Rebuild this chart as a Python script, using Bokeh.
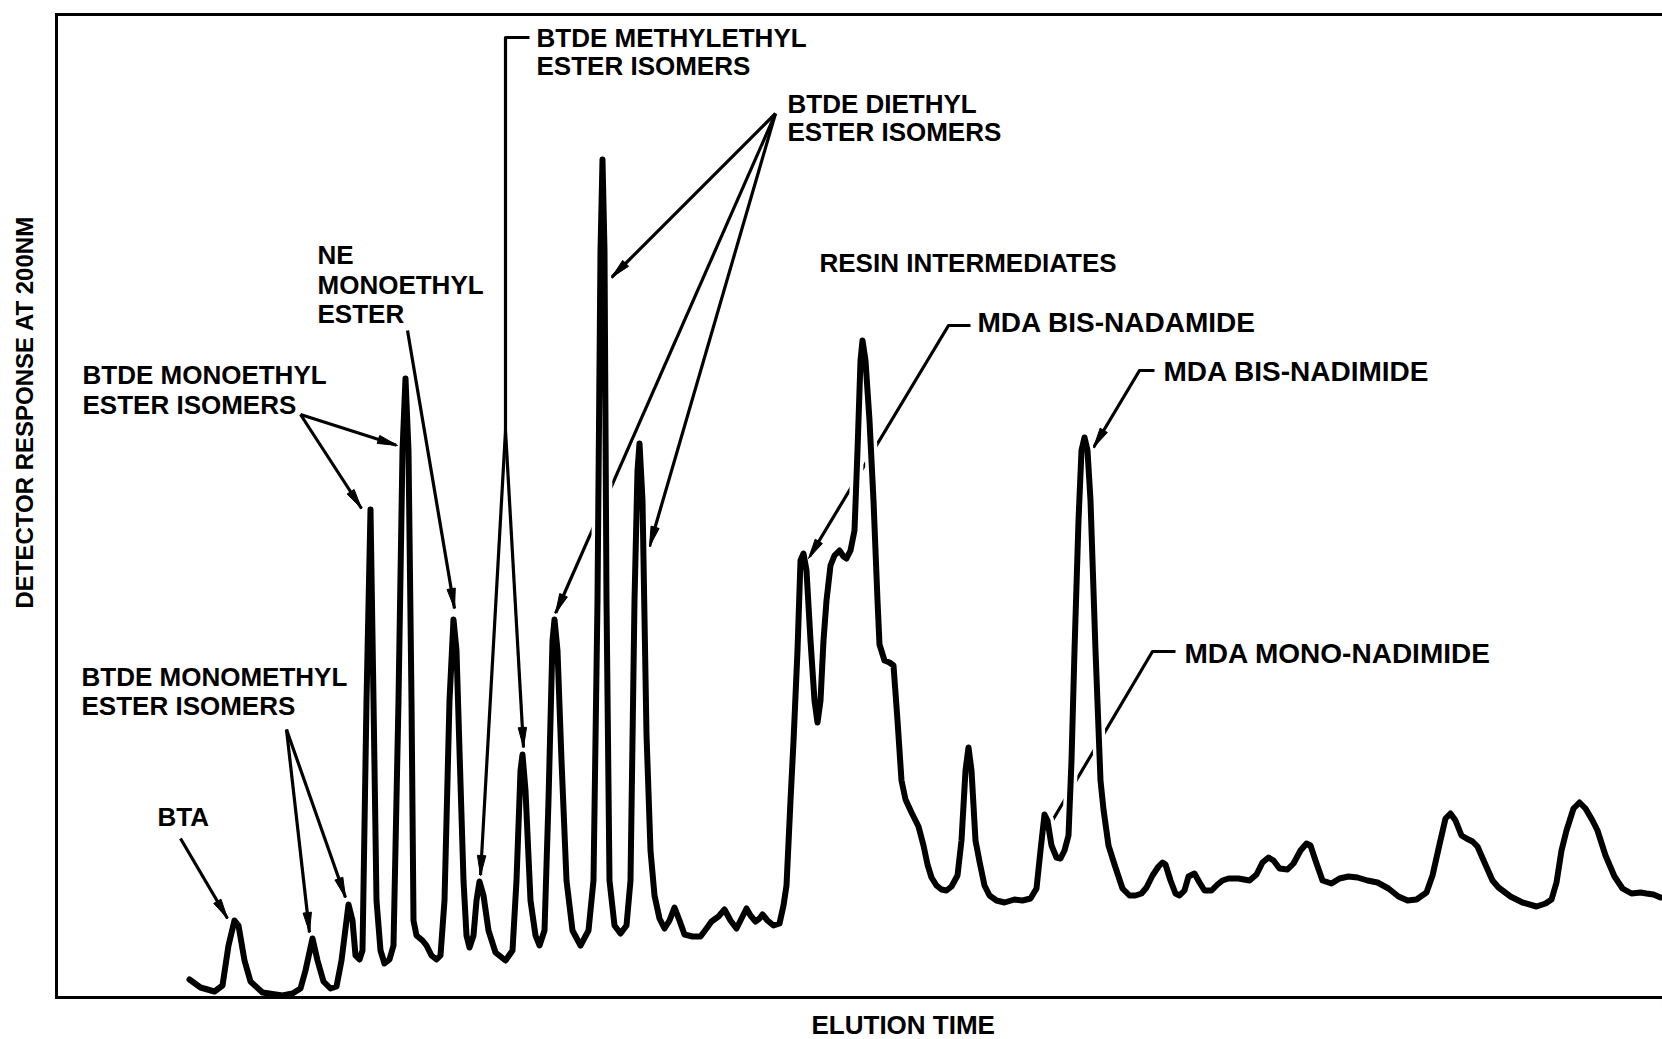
import math

from bokeh.core.properties import value
from bokeh.embed import file_html
from bokeh.models import FixedTicker, LinearAxis, Range1d, Title
from bokeh.plotting import figure
from bokeh.resources import INLINE

# HPLC trace of the resin: elution time (arbitrary units) and detector response at 200 nm
elution_time = [
    13.3, 14.4, 15.8, 16.6, 17.2, 17.8, 18.2, 18.8, 19.4, 20.6, 22.6, 23.6, 24.4, 24.9,
    25.6, 26.1, 26.7, 27.4, 28.0, 28.5, 29.2, 29.6, 29.9, 30.3, 30.6, 31.0, 31.4, 31.7,
    32.0, 32.4, 32.8, 33.3, 33.7, 34.2, 34.6, 34.9, 35.2, 35.5, 35.7, 36.0, 36.6, 37.0,
    37.5, 38.0, 38.4, 38.8, 39.3, 39.7, 40.0, 40.3, 40.7, 41.0, 41.3, 41.7, 42.0, 42.3,
    42.7, 43.2, 43.9, 44.9, 45.6, 46.0, 46.4, 46.6, 46.9, 47.4, 47.9, 48.3, 48.8, 49.2,
    49.6, 49.8, 50.1, 50.5, 51.0, 51.6, 52.4, 53.2, 53.7, 54.1, 54.4, 54.6, 54.8, 55.0,
    55.3, 55.8, 56.4, 57.0, 57.4, 57.8, 58.1, 58.3, 58.6, 59.0, 59.4, 59.8, 60.3, 60.8,
    61.3, 61.8, 62.3, 62.8, 63.6, 64.4, 65.0, 65.5, 66.2, 66.8, 67.4, 68.0, 68.5, 69.0,
    69.4, 69.9, 70.3, 70.6, 71.1, 71.7, 72.3, 72.7, 73.0, 73.4, 73.7, 74.1, 74.4, 74.7,
    75.0, 75.4, 75.8, 76.1, 76.4, 76.7, 77.0, 77.4, 77.8, 78.3, 78.7, 79.0, 79.4, 79.8,
    80.1, 80.4, 80.6, 80.9, 81.3, 81.7, 82.1, 82.3, 82.8, 83.3, 83.7, 84.1, 84.5, 84.9,
    85.5, 86.2, 86.7, 87.1, 87.5, 88.0, 88.5, 89.0, 89.5, 90.1, 90.5, 90.9, 91.2, 91.5,
    91.9, 92.3, 92.8, 93.3, 94.0, 94.8, 95.8, 96.6, 97.4, 98.0, 98.4, 98.8, 99.1, 99.5,
    100.0, 100.4, 100.8, 101.2, 101.5, 101.8, 102.2, 102.5, 102.8, 103.1, 103.4, 103.9,
    104.4, 104.7, 105.2, 105.8, 106.6, 107.3, 107.9, 108.5, 109.0, 109.6, 110.2, 110.6,
    110.9, 111.4, 111.9, 112.3, 112.8, 113.2, 113.8, 114.3, 114.8, 115.5, 116.1, 116.6,
    117.2, 118.2, 119.3, 120.0, 120.6, 121.2, 121.7, 122.3, 123.1, 123.7, 124.4, 125.0,
    125.4, 125.9, 126.6, 127.5, 128.3, 129.2, 130.1, 131.1, 132.1, 133.2, 134.2, 135.1,
    136.0, 137.0, 137.6, 138.3, 138.9, 139.4, 139.9, 140.5, 141.0, 141.6, 142.1, 142.8,
    143.6, 144.2, 145.4, 146.6, 148.0, 148.9, 149.5, 150.0, 150.5, 151.0, 151.7, 152.3,
    152.9, 153.6, 154.1, 154.9, 155.8, 156.6, 157.5, 158.4, 159.0, 159.7, 160.4,
]
detector_response = [
    1.8, 1.0, 0.6, 1.2, 5.2, 7.7, 7.2, 3.7, 1.6, 0.5, 0.2, 0.4, 0.9, 2.7,
    5.9, 3.7, 1.6, 0.9, 1.1, 3.7, 9.3, 7.7, 4.2, 3.8, 4.7, 29.7, 48.8, 29.7,
    9.7, 4.7, 3.4, 3.8, 5.2, 29.7, 54.7, 61.9, 54.7, 29.7, 7.7, 6.2, 5.7, 5.2,
    4.2, 3.8, 4.2, 9.7, 29.7, 37.8, 34.7, 24.7, 11.7, 6.2, 5.0, 6.2, 9.7, 11.6,
    10.2, 6.7, 4.5, 3.7, 4.7, 11.7, 22.7, 24.3, 20.7, 9.7, 6.2, 5.2, 6.7, 19.7,
    35.7, 37.8, 34.7, 23.7, 11.7, 6.7, 5.2, 6.7, 11.7, 39.7, 74.7, 83.8, 74.7, 39.7,
    11.7, 7.2, 6.4, 7.2, 11.7, 39.7, 52.7, 55.4, 49.7, 26.3, 14.7, 10.2, 7.9, 6.9,
    7.7, 9.0, 7.7, 6.3, 6.1, 6.1, 6.9, 7.6, 8.1, 8.8, 7.7, 6.9, 7.9, 8.9,
    8.2, 7.6, 7.9, 8.3, 7.7, 7.2, 7.4, 9.2, 11.2, 19.7, 25.6, 34.7, 43.7, 44.4,
    42.7, 35.7, 29.7, 27.5, 29.7, 35.7, 39.7, 43.2, 44.2, 44.7, 44.1, 43.9, 44.7, 46.7,
    54.7, 63.7, 65.7, 63.7, 57.7, 49.7, 39.7, 35.3, 33.7, 33.5, 33.2, 27.7, 21.7, 19.8,
    18.5, 17.1, 15.2, 13.3, 12.0, 11.2, 10.8, 10.7, 11.1, 12.2, 15.7, 22.7, 25.0, 22.7,
    15.7, 13.6, 11.2, 10.2, 9.7, 9.5, 9.8, 9.7, 9.9, 10.9, 14.7, 18.3, 17.7, 15.2,
    14.0, 13.9, 14.7, 16.2, 23.7, 34.7, 47.7, 54.7, 56.0, 54.7, 49.7, 34.7,
    21.7, 18.8, 15.2, 13.3, 10.9, 10.2, 10.2, 10.4, 11.0, 12.2, 13.1, 13.5,
    13.3, 11.7, 10.4, 10.2, 10.7, 12.1, 12.4, 11.5, 10.7, 10.7, 11.3, 11.7,
    11.9, 11.9, 11.7, 12.3, 13.5, 14.0, 13.7, 12.9, 12.8, 13.4, 14.7, 15.4,
    15.2, 13.7, 11.7, 11.4, 11.9, 12.1, 12.0, 11.7, 11.5, 10.9, 10.1, 9.7,
    9.8, 10.5, 12.2, 15.3, 17.9, 18.4, 17.7, 16.2, 15.9, 15.6, 15.1, 13.5,
    11.7, 11.0, 10.1, 9.5, 9.1, 9.4, 9.8, 11.5, 14.7, 16.7, 18.9, 19.5,
    18.9, 17.7, 16.7, 14.2, 12.1, 10.9, 10.4, 10.5, 10.4, 10.3, 10.0,
]

# Peak identification texts, one entry per printed line
label_lines = [
    "BTA",
    "BTDE MONOMETHYL", "ESTER ISOMERS",
    "BTDE MONOETHYL", "ESTER ISOMERS",
    "NE", "MONOETHYL", "ESTER",
    "BTDE METHYLETHYL", "ESTER ISOMERS",
    "BTDE DIETHYL", "ESTER ISOMERS",
    "RESIN INTERMEDIATES",
]
label_time = [10.1, 2.5, 2.5, 2.6, 2.6, 26.1, 26.1, 26.1, 48.0, 48.0, 73.1, 73.1, 76.3]
label_response = [18.1, 32.1, 29.2, 62.3, 59.3, 74.3, 71.3, 68.4, 96.0, 93.2, 89.4, 86.6, 73.5]

# Resin intermediate identifications (printed a little larger)
mda_lines = ["MDA BIS-NADAMIDE", "MDA BIS-NADIMIDE", "MDA MONO-NADIMIDE"]
mda_time = [92.1, 110.7, 112.8]
mda_response = [67.5, 62.6, 34.4]

# Leader lines (time, response vertices) from each label to its peak(s)
leader_paths = [
    [(12.4, 15.9), (17.1, 7.9)],
    [(23.0, 26.8), (25.3, 6.5)],
    [(23.0, 26.8), (28.9, 10.0)],
    [(24.4, 58.3), (34.1, 55.2)],
    [(24.4, 58.3), (30.5, 48.9)],
    [(35.1, 66.7), (39.8, 38.9)],
    [(47.3, 96.0), (44.9, 96.0), (44.9, 56.7), (42.4, 12.2)],
    [(44.9, 56.7), (46.7, 25.0)],
    [(71.9, 88.4), (55.5, 72.0)],
    [(71.9, 88.4), (49.9, 38.4)],
    [(71.9, 88.4), (59.3, 45.1)],
    [(91.4, 67.2), (89.2, 67.2), (75.2, 43.9)],
    [(109.8, 62.7), (108.3, 62.7), (103.7, 55.0)],
    [(111.9, 34.6), (109.6, 34.6), (99.3, 17.2)],
]
# Which leaders end in an arrowhead
leader_arrow = [True] * 13 + [False]

FONT = "Liberation Sans"

p = figure(
    width=1662, height=1039,
    x_range=Range1d(0, 160.6), y_range=Range1d(0, 98.3),
    output_backend="svg", toolbar_location=None,
    min_border_left=56, min_border_right=0, min_border_top=14, min_border_bottom=42,
)
p.outline_line_color = None
p.grid.visible = False
p.background_fill_color = "white"
p.border_fill_color = "white"


def style_frame_axis(ax, spacer_tick=None, gap=0):
    # unlabelled axis that only draws a frame edge; a single near-transparent tick of
    # length "gap" reserves room between the edge and the caption
    ax.ticker = FixedTicker(ticks=[] if spacer_tick is None else [spacer_tick])
    ax.axis_line_width = 3
    ax.axis_line_color = "black"
    ax.axis_line_cap = "square"
    ax.major_tick_line_color = "black"
    ax.major_tick_line_alpha = 0.01
    ax.major_tick_line_width = 1
    ax.minor_tick_line_color = None
    ax.major_tick_out = gap
    ax.major_tick_in = 0
    ax.minor_tick_out = 0
    ax.minor_tick_in = 0
    ax.major_label_text_font_size = "0px"
    ax.major_label_standoff = 0
    if spacer_tick is not None:
        ax.major_label_overrides = {spacer_tick: ""}


style_frame_axis(p.xaxis[0], spacer_tick=160.5, gap=10)
style_frame_axis(p.yaxis[0], spacer_tick=50.0, gap=19)
top_axis = LinearAxis()
style_frame_axis(top_axis)
top_axis.major_tick_line_color = None
p.add_layout(top_axis, "above")

# axis captions
p.add_layout(Title(
    text="ELUTION TIME", align="left", offset=755, standoff=0,
    text_font=FONT, text_font_style="bold", text_font_size="26px", text_color="black",
), "below")
p.add_layout(Title(
    text="DETECTOR RESPONSE AT 200NM", align="left", offset=389, standoff=0,
    text_font=FONT, text_font_style="bold", text_font_size="24px", text_color="black",
), "left")

# leader lines sit under a white halo of the trace, so they break where they cross it
p.multi_line(
    xs=[[v[0] for v in path] for path in leader_paths],
    ys=[[v[1] for v in path] for path in leader_paths],
    line_color="black", line_width=3.2, line_join="round",
)
p.line(elution_time, detector_response, line_color="white", line_width=13,
       line_join="round", line_cap="round")
p.line(elution_time, detector_response, line_color="black", line_width=6,
       line_join="round", line_cap="round")


def arrow_head(x0, y0, x1, y1, length=2.0, half_width=0.42):
    dx, dy = x1 - x0, y1 - y0
    n = math.hypot(dx, dy)
    ux, uy = dx / n, dy / n
    bx, by = x1 - ux * length, y1 - uy * length
    nx, ny = -uy * half_width, ux * half_width
    return [x1, bx + nx, bx - nx], [y1, by + ny, by - ny]


head_xs, head_ys = [], []
for path, has_head in zip(leader_paths, leader_arrow):
    if has_head:
        hx, hy = arrow_head(path[-2][0], path[-2][1], path[-1][0], path[-1][1])
        head_xs.append(hx)
        head_ys.append(hy)
p.patches(head_xs, head_ys, fill_color="black", line_color="black", line_width=1)

p.text(
    x=label_time, y=label_response, text=label_lines,
    text_font=value(FONT), text_font_style="bold", text_font_size="26px",
    text_align="left", text_baseline="middle", text_color="black",
)
p.text(
    x=mda_time, y=mda_response, text=mda_lines,
    text_font=value(FONT), text_font_style="bold", text_font_size="28px",
    text_align="left", text_baseline="middle", text_color="black",
)

open("out.html", "w").write(file_html(p, INLINE))
